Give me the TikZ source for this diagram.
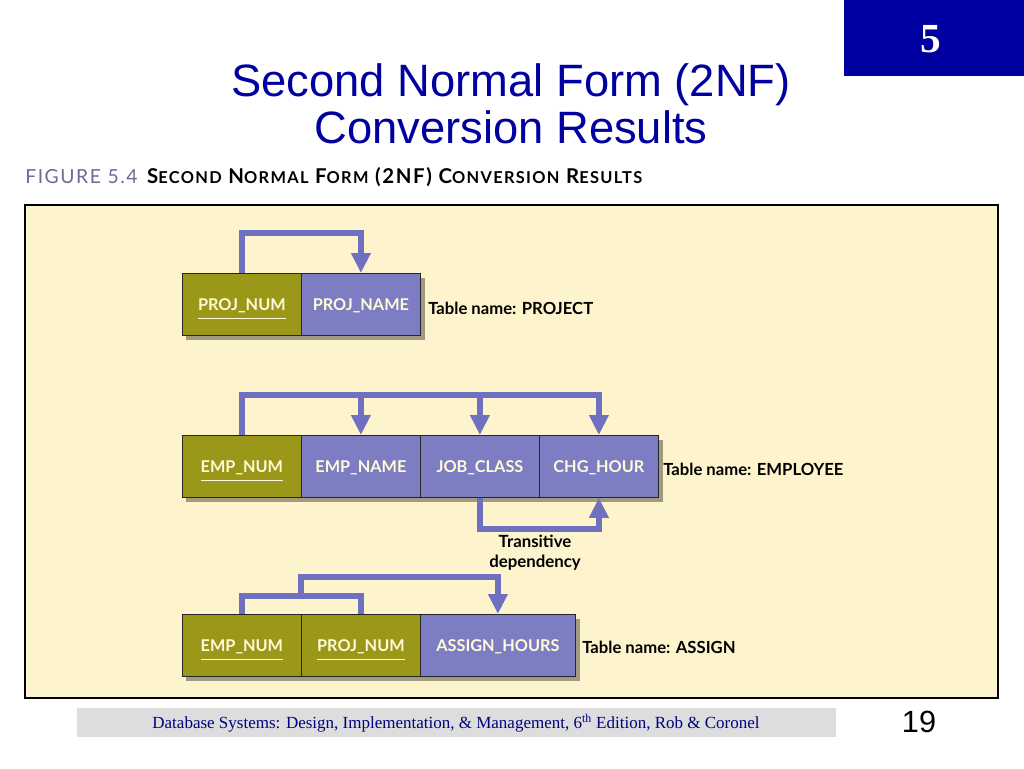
\documentclass[tikz,border=0pt]{standalone}
\usepackage{fontspec}
\usepackage{graphicx}
\usetikzlibrary{arrows.meta,positioning,calc}
\newfontfamily\titlefont{Liberation Sans}
\newfontfamily\serifont{Liberation Serif}
\newfontfamily\figfont{Lato}
\newfontfamily\capfont[LetterSpace=8]{Lato}
\definecolor{navy}{RGB}{0,0,160}
\definecolor{olivec}{RGB}{155,152,25}
\definecolor{purplec}{RGB}{125,125,195}
\definecolor{arrowc}{RGB}{112,112,192}
\definecolor{panelc}{RGB}{253,244,205}
\definecolor{shadowc}{RGB}{160,154,128}
\definecolor{creamc}{RGB}{255,250,215}
\definecolor{capc}{RGB}{120,100,150}
\definecolor{footc}{RGB}{221,221,221}
\definecolor{foottext}{RGB}{0,0,128}

\tikzset{
  cell/.style={anchor=north west, minimum height=46.5pt, minimum width=89.25pt, inner sep=0pt,
    draw=black!85, line width=0.6pt, text=creamc, font=\figfont\bfseries\fontsize{12.2}{14}\selectfont,
    text height=8.6pt, text depth=0pt},
  keycell/.style={cell, fill=olivec},
  attcell/.style={cell, fill=purplec},
  link/.style={draw=arrowc, line width=4.5pt},
  dep/.style={link, -{Triangle[length=15pt,width=14pt]}},
  tname/.style={anchor=west, inner sep=0pt, font=\figfont\bfseries\fontsize{12.5}{14}\selectfont},
}
% key attribute: text with a line under it
\newcommand{\keyname}[1]{\setbox0\hbox{#1}\rlap{\copy0}\raisebox{-7pt}{\rule{\wd0}{1.3pt}}}
\newcommand{\sml}[1]{{\fontsize{12.3}{13}\selectfont #1}}

\begin{document}
\begin{tikzpicture}[x=0.75pt,y=0.75pt,yscale=-1,xscale=1]
  \useasboundingbox (0,0) rectangle (1024,768);

  % slide header
  \fill[navy] (844,0) rectangle (1024,76);
  \node[text=white, font=\serifont\bfseries\fontsize{31}{31}\selectfont] (chap) at (931,39) {5};
  \node[anchor=base, text=navy, font=\titlefont\fontsize{34}{34}\selectfont] (title1) at (511,96) {Second Normal Form (2NF)};
  \node[anchor=base, text=navy, font=\titlefont\fontsize{34}{34}\selectfont] (title2) at (511,143) {Conversion Results};

  % figure caption
  \node[anchor=west, inner sep=0pt, font=\capfont\fontsize{14.5}{16}\selectfont] (cap) at (25,177)
    {\textcolor{capc}{FIGURE 5.4}\enspace\bfseries\fontsize{15.3}{16}\selectfont S\sml{ECOND} N\sml{ORMAL} F\sml{ORM} (2NF) C\sml{ONVERSION} R\sml{ESULTS}};

  \draw[fill=panelc, line width=1.5pt] (25,205) rectangle (998,698);

  % shadows
  \fill[shadowc] (186,278) rectangle (425,340);
  \fill[shadowc] (186,440) rectangle (663,502);
  \fill[shadowc] (186,619) rectangle (580,681);

  % PROJECT
  \node[keycell] (pnum) at (182,273) {\keyname{PROJ\_NUM}};
  \node[attcell] (pname) at (301,273) {PROJ\_NAME};
  \node[tname] (tproj) at (428,308) {Table name: PROJECT};
  \draw[dep] (pnum.north) -- ++(0,-40) -| (pname.north);

  % EMPLOYEE
  \node[keycell] (enum) at (182,435) {\keyname{EMP\_NUM}};
  \node[attcell] (ename) at (301,435) {EMP\_NAME};
  \node[attcell] (jclass) at (420,435) {JOB\_CLASS};
  \node[attcell] (chour) at (539,435) {CHG\_HOUR};
  \node[tname] (temp) at (663,469) {Table name: EMPLOYEE};
  \coordinate (etop) at ($(enum.north)+(0,-40)$);
  \draw[dep] (enum.north) -- (etop) -| (chour.north);
  \draw[dep] (ename.north |- etop) -- (ename.north);
  \draw[dep] (jclass.north |- etop) -- (jclass.north);
  \draw[dep] (jclass.south) -- ++(0,31) -| (chour.south);
  \node[align=center, font=\figfont\bfseries\fontsize{12.6}{15}\selectfont] (trans) at (535,553) {Transitive\\dependency};

  % ASSIGN
  \node[keycell] (anum) at (182,614) {\keyname{EMP\_NUM}};
  \node[keycell] (apnum) at (301,614) {\keyname{PROJ\_NUM}};
  \node[attcell, minimum width=116.25pt] (ahours) at (420,614) {ASSIGN\_HOURS};
  \node[tname] (tasg) at (582,647) {Table name: ASSIGN};
  \coordinate (alow) at ($(anum.north)+(0,-18)$);
  \coordinate (amid) at ($(alow)!0.5!(apnum.north |- alow)$);
  \draw[link] (anum.north) -- (alow) -| (apnum.north);
  \draw[dep] (amid) -- ++(0,-19) -| (ahours.north);

  % footer
  \fill[footc] (77,708) rectangle (836,737);
  \node[text=foottext, font=\serifont\fontsize{12.75}{14}\selectfont] (foot) at (456,723)
    {Database Systems: Design, Implementation, \& Management, 6\textsuperscript{th} Edition, Rob \& Coronel};
  \node[font=\titlefont\fontsize{23}{23}\selectfont] (page) at (919,722) {19};
\end{tikzpicture}
\end{document}
